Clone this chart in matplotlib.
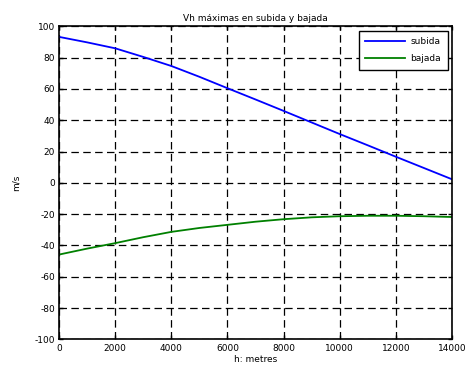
import matplotlib
matplotlib.use("Agg")
import matplotlib.pyplot as plt

plt.rcParams["axes.unicode_minus"] = False

h = [0, 1000, 2000, 3000, 4000, 5000, 6000, 7000, 8000, 9000, 10000, 11000, 12000, 13000, 14000]
subida = [93.3, 89.8, 86.0, 80.5, 74.7, 67.8, 60.5, 53.3, 46.0, 38.6, 31.2, 24.0, 16.7, 9.5, 2.3]
bajada = [-45.8, -42.0, -38.5, -34.7, -31.3, -28.8, -26.8, -24.8, -23.2, -22.0, -21.3, -21.0, -21.0, -21.3, -21.8]
xticks = [0, 2000, 4000, 6000, 8000, 10000, 12000, 14000]
yticks = [-100, -80, -60, -40, -20, 0, 20, 40, 60, 80, 100]

fig = plt.figure(figsize=(4.67, 3.69), dpi=100)
ax = fig.add_axes([0.1263, 0.0802, 0.8417, 0.8483])

ax.plot(h, subida, color=(0, 0, 1), lw=1.3, label="subida")
ax.plot(h, bajada, color=(0, 0.5, 0), lw=1.3, label="bajada")

ax.set_xlim(0, 14000)
ax.set_ylim(-100, 100)
ax.set_xticks(xticks)
ax.set_yticks(yticks)
ax.tick_params(direction="in", top=True, right=True, labelsize=6.5, length=3, width=1, pad=3)
ax.grid(True, color="black", linestyle=(0, (6, 3.5)), linewidth=0.9)
for s in ax.spines.values():
    s.set_linewidth(1.2)

ax.set_title("Vh máximas en subida y bajada", fontsize=6.5, pad=4)
ax.set_xlabel("h: metres", fontsize=6.5, labelpad=2)
ax.set_ylabel("m/s", fontsize=6.5, labelpad=10)

leg = ax.legend(loc="upper right", fontsize=6.5, fancybox=False, framealpha=1,
                edgecolor="black", borderaxespad=0.5, handlelength=4.4,
                labelspacing=0.9, borderpad=0.7, handletextpad=0.6)
leg.get_frame().set_linewidth(1.0)

fig.savefig("out.png", dpi=100)
